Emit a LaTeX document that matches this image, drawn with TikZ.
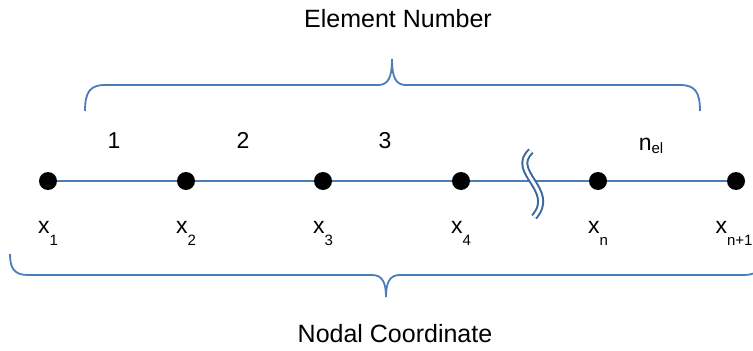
\documentclass[tikz,border=0pt]{standalone}
\usepackage{fontspec}
\setmainfont{Liberation Sans}
\definecolor{lineblue}{HTML}{4A7EBB}
\definecolor{breakblue}{HTML}{3A689E}
\newcommand{\subf}{\fontsize{15}{15}\selectfont}
\begin{document}
\begin{tikzpicture}[x=1pt,y=-1pt,
  axis/.style={draw=lineblue, line width=1.5pt},
  bracepath/.style={draw=lineblue, line width=1.8pt},
  dot/.style={circle, fill=black, inner sep=0pt, minimum size=18pt},
  title/.style={font=\fontsize{25}{25}\selectfont, inner sep=0pt},
  num/.style={font=\fontsize{23}{23}\selectfont, inner sep=0pt, anchor=base},
  lab/.style={font=\fontsize{23}{23}\selectfont, inner sep=0pt, anchor=base},
  brk/.style={draw=breakblue, line width=2pt, double=white, double distance=3pt}]
\useasboundingbox (0,0) rectangle (753,351);
\clip (0,0) rectangle (753,351);
\fill[white] (0,0) rectangle (753,351);
% node positions
\coordinate (c1) at (48,181);
\coordinate (c2) at (186,181);
\coordinate (c3) at (323,181);
\coordinate (c4) at (461,181);
\coordinate (c5) at (598,181);
\coordinate (c6) at (736,181);
\draw[axis] (c1) -- (c6);
% break symbol
\draw[brk] (531,151) .. controls (508,172) and (558,190) .. (534,217);
% dots
\node[dot] (n1) at (c1) {};
\node[dot] (n2) at (c2) {};
\node[dot] (n3) at (c3) {};
\node[dot] (n4) at (c4) {};
\node[dot] (n5) at (c5) {};
\node[dot] (n6) at (c6) {};
% top brace
\draw[bracepath] (85,111) .. controls (85,92) and (90,85) .. (105,85) -- (378,85)
  .. controls (388,85) and (392,78) .. (392,59)
  .. controls (392,78) and (396,85) .. (406,85) -- (680,85)
  .. controls (695,85) and (700,92) .. (700,111);
% bottom brace
\draw[bracepath] (10,254) .. controls (10,268) and (14,275) .. (28,275) -- (372,275)
  .. controls (382,275) and (386,282) .. (386,297)
  .. controls (386,282) and (390,275) .. (400,275) -- (744,275)
  .. controls (758,275) and (762,268) .. (762,254);
% titles
\node[title, anchor=base] (t1) at (398,27) {Element Number};
\node[title, anchor=base] (t2) at (395,342) {Nodal Coordinate};
% element numbers
\node[num] (e1) at (114,148) {1};
\node[num] (e2) at (243,148) {2};
\node[num] (e3) at (385,148) {3};
\node[num] (e4) at (651,150) {n\raisebox{-3pt}{\subf el}};
% nodal labels
\node[lab] (l1) at (48,233) {x\raisebox{-12pt}{\subf 1}};
\node[lab] (l2) at (186,233) {x\raisebox{-12pt}{\subf 2}};
\node[lab] (l3) at (323,233) {x\raisebox{-12pt}{\subf 3}};
\node[lab] (l4) at (461,233) {x\raisebox{-12pt}{\subf 4}};
\node[lab] (l5) at (598,233) {x\raisebox{-12pt}{\subf n}};
\node[lab] (l6) at (734,233) {x\raisebox{-12pt}{\subf n+1}};
\end{tikzpicture}
\end{document}
